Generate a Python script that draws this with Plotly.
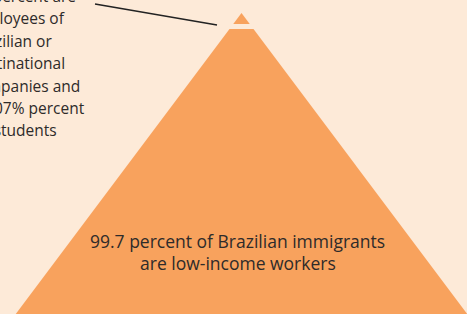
import plotly.graph_objects as go

# ---- data ----
segments = ["Low-income workers", "Employees and students"]
shares = [99.7, 0.3]
main_label = ["99.7 percent of Brazilian immigrants", "are low-income workers"]
side_label = ["0.23 percent are", "employees of", "Brazilian or", "multinational",
              "companies and", "0.07% percent", "are students"]

# ---- geometry (pixels) ----
W, H = 467, 314
BG = "#FDEAD8"
ORANGE = "#F8A25D"
TEXT = "#2E2B2A"
apex_x, apex_y = 241.5, 13.0
slope = 0.75
cap_bottom = 24.0
body_top = 29.0
body_bottom = 340.0
FONT = "Open Sans"
side_right_edges = [76, 65, 52, 65, 80, 85, 57]

def half(y):
    return slope * (y - apex_y)

fig = go.Figure()

# top cap (small share)
fig.add_trace(go.Scatter(
    x=[apex_x, apex_x + half(cap_bottom), apex_x - half(cap_bottom), apex_x],
    y=[apex_y, cap_bottom, cap_bottom, apex_y],
    fill="toself", fillcolor=ORANGE, mode="lines", line=dict(width=0),
    name=segments[1], hoverinfo="skip"))

# main body (large share)
fig.add_trace(go.Scatter(
    x=[apex_x - half(body_top), apex_x + half(body_top), apex_x + half(body_bottom),
       apex_x - half(body_bottom), apex_x - half(body_top)],
    y=[body_top, body_top, body_bottom, body_bottom, body_top],
    fill="toself", fillcolor=ORANGE, mode="lines", line=dict(width=0),
    name=segments[0], hoverinfo="skip"))

# leader line
fig.add_trace(go.Scatter(x=[95, 217], y=[4, 25], mode="lines",
                         line=dict(color="#222222", width=1.5), hoverinfo="skip"))

def py(v):
    return 1 - v / H

# main label
main_centers = [240.5, 262.5]
for txt, yc in zip(main_label, main_centers):
    fig.add_annotation(text=txt, x=238 / W, y=py(yc), xref="paper", yref="paper",
                       xanchor="center", yanchor="middle", showarrow=False,
                       font=dict(family=FONT, size=17.5, color=TEXT))

# side label
for i, (txt, xr) in enumerate(zip(side_label, side_right_edges)):
    yc = 1.6 + 22.4 * i - 5.6
    fig.add_annotation(text=txt, x=(xr + 2) / W, y=py(yc), xref="paper", yref="paper",
                       xanchor="right", yanchor="middle", showarrow=False,
                       font=dict(family=FONT, size=15.5, color=TEXT))

fig.update_layout(
    width=W, height=H, margin=dict(l=0, r=0, t=0, b=0),
    paper_bgcolor=BG, plot_bgcolor=BG, showlegend=False,
    xaxis=dict(range=[0, W], visible=False, fixedrange=True),
    yaxis=dict(range=[H, 0], visible=False, fixedrange=True),
)

fig.write_html("out.html", config={"displayModeBar": False},
               post_script="document.body.style.margin='0';")
